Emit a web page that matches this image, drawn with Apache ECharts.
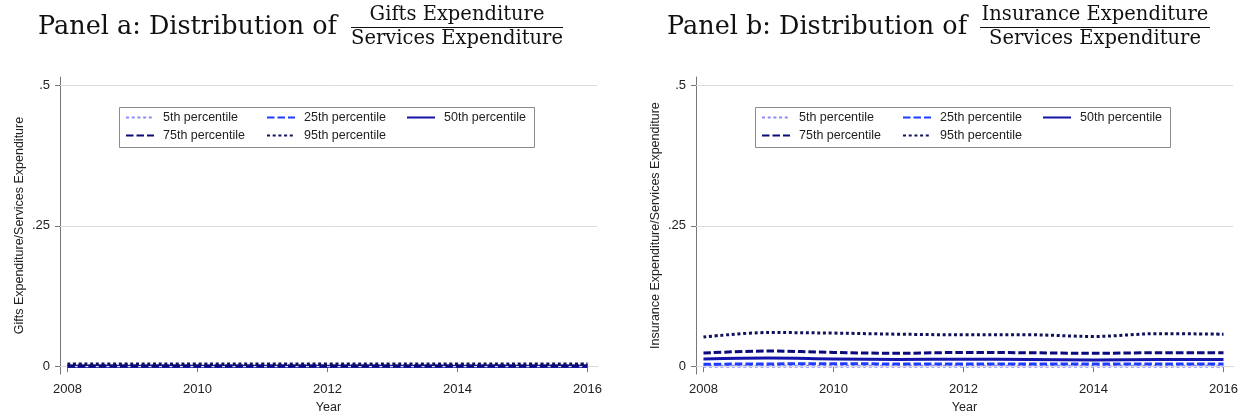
<!DOCTYPE html>
<html>
<head>
<meta charset="utf-8">
<script src="https://cdn.jsdelivr.net/npm/echarts@6/dist/echarts.min.js"></script>
<style>
  html, body { margin: 0; padding: 0; background: #fff; }
  #chart { width: 1245px; height: 419px; }
</style>
</head>
<body>
<div id="chart"></div>
<script>
// ---- data ----
const years = [2008, 2009, 2010, 2011, 2012, 2013, 2014, 2015, 2016];
const xTickValues = [2008, 2010, 2012, 2014, 2016];
const yTickValues = [0, 0.25, 0.5];
const yTickLabels = ['0', '.25', '.5'];
const percentileNames = ['5th percentile', '25th percentile', '50th percentile', '75th percentile', '95th percentile'];

// Panel a: gifts expenditure / services expenditure
const giftsP5  = [0, 0, 0, 0, 0, 0, 0, 0, 0];
const giftsP25 = [0, 0, 0, 0, 0, 0, 0, 0, 0];
const giftsP50 = [0, 0, 0, 0, 0, 0, 0, 0, 0];
const giftsP75 = [0.0005, 0.0005, 0.0005, 0.0005, 0.0005, 0.0005, 0.0005, 0.0005, 0.0005];
const giftsP95 = [0.004, 0.004, 0.004, 0.004, 0.004, 0.004, 0.004, 0.004, 0.004];

// Panel b: insurance expenditure / services expenditure
const insuranceP5  = [0, 0, 0, 0, 0, 0, 0, 0, 0];
const insuranceP25 = [0.0035, 0.004, 0.0045, 0.004, 0.004, 0.004, 0.004, 0.004, 0.004];
const insuranceP50 = [0.013, 0.0145, 0.013, 0.012, 0.0125, 0.012, 0.011, 0.012, 0.012];
const insuranceP75 = [0.0235, 0.027, 0.0245, 0.023, 0.0245, 0.024, 0.023, 0.024, 0.024];
const insuranceP95 = [0.052, 0.060, 0.059, 0.057, 0.056, 0.056, 0.053, 0.058, 0.057];

// ---- styling ----
const SANS = '"Liberation Sans", Arial, sans-serif';
const SERIF = '"DejaVu Serif", serif';
const lineLooks = [
  { color: '#8c8cff', type: [3, 2.7] },   // 5th
  { color: '#1e3cff', type: [7.5, 3] },   // 25th
  { color: '#1414a8', type: 'solid' },    // 50th
  { color: '#0a0a7c', type: [7.5, 3] },   // 75th
  { color: '#10105c', type: [3, 2.7] }    // 95th
];

const panels = [
  { dx: 0,   yName: 'Gifts Expenditure/Services Expenditure',
    heading: 'Panel a: Distribution of', headingX: 38,
    values: [giftsP5, giftsP25, giftsP50, giftsP75, giftsP95],
    numerator: 'Gifts Expenditure', fracCenter: 457, fracHalf: 106 },
  { dx: 636, yName: 'Insurance Expenditure/Services Expenditure',
    heading: 'Panel b: Distribution of', headingX: 667,
    values: [insuranceP5, insuranceP25, insuranceP50, insuranceP75, insuranceP95],
    numerator: 'Insurance Expenditure', fracCenter: 1095, fracHalf: 115 }
];

const grids = [], xAxes = [], yAxes = [], series = [], legends = [], graphics = [];

panels.forEach((p, i) => {
  grids.push({ left: 60 + p.dx, top: 77, width: 537, height: 300, containLabel: false });

  xAxes.push({
    gridIndex: i, type: 'value', min: 2007.885, max: 2016.146,
    name: 'Year', nameLocation: 'middle', nameGap: 25,
    nameTextStyle: { fontFamily: SANS, fontSize: 12.5, color: '#222' },
    axisLine: { lineStyle: { color: '#777', width: 1 } },
    axisTick: { show: true, length: 6, lineStyle: { color: '#777' }, customValues: xTickValues },
    axisLabel: { fontFamily: SANS, fontSize: 13, color: '#222', margin: 9, customValues: xTickValues,
                 formatter: v => String(v) },
    splitLine: { show: false }
  });

  yAxes.push({
    gridIndex: i, type: 'value', min: -0.0141, max: 0.5154,
    name: p.yName, nameLocation: 'middle', nameGap: 34, nameRotate: 90,
    nameTextStyle: { fontFamily: SANS, fontSize: 12.5, color: '#222' },
    axisLine: { show: true, lineStyle: { color: '#777', width: 1 } },
    axisTick: { show: true, length: 5, lineStyle: { color: '#777' }, customValues: yTickValues },
    axisLabel: { fontFamily: SANS, fontSize: 13, color: '#222', margin: 10, customValues: yTickValues,
                 formatter: v => yTickLabels[yTickValues.indexOf(Math.round(v * 100) / 100)] },
    splitLine: { show: false }
  });

  // horizontal reference lines at the labelled y values
  series.push({
    type: 'line', xAxisIndex: i, yAxisIndex: i, data: [], silent: true, z: 1,
    markLine: {
      silent: true, symbol: ['none', 'none'], animation: false,
      label: { show: false },
      lineStyle: { color: '#dcdcdc', width: 1, type: 'solid' },
      emphasis: { disabled: true },
      data: yTickValues.map(v => ({ yAxis: v }))
    }
  });

  p.values.forEach((vals, k) => {
    series.push({
      name: percentileNames[k], type: 'line', xAxisIndex: i, yAxisIndex: i,
      data: years.map((y, j) => [y, vals[j]]),
      symbol: 'none', smooth: 0.35, clip: false, z: 2 + k,
      lineStyle: { color: lineLooks[k].color, width: 3, type: lineLooks[k].type, cap: 'butt' },
      itemStyle: { color: lineLooks[k].color },
      animation: false
    });
  });

  // legend: 3 columns x 2 rows
  const colX = [125, 266, 406], rowY = [111, 129];
  percentileNames.forEach((nm, k) => {
    legends.push({
      data: [nm], left: colX[k % 3] + p.dx, top: rowY[Math.floor(k / 3)],
      padding: 0, itemWidth: 28, itemHeight: 14, selectedMode: false,
      itemStyle: { opacity: 0 },
      textStyle: { fontFamily: SANS, fontSize: 12.5, color: '#222', padding: [0, 0, 0, 4] }
    });
  });

  graphics.push({
    type: 'rect', silent: true, z: 0,
    shape: { x: 119.5 + p.dx, y: 107.5, width: 415, height: 40 },
    style: { fill: '#fff', stroke: '#8a8a8a', lineWidth: 1 }
  });

  // panel heading with a stacked fraction
  graphics.push({
    type: 'text', silent: true,
    style: { text: p.heading, x: p.headingX, y: 27, align: 'left', verticalAlign: 'middle',
             font: '25.5px ' + SERIF, fill: '#111' }
  });
  graphics.push({
    type: 'text', silent: true,
    style: { text: p.numerator, x: p.fracCenter, y: 15, align: 'center', verticalAlign: 'middle',
             font: '19.5px ' + SERIF, fill: '#111' }
  });
  graphics.push({
    type: 'line', silent: true,
    shape: { x1: p.fracCenter - p.fracHalf, y1: 27.5, x2: p.fracCenter + p.fracHalf, y2: 27.5 },
    style: { stroke: '#111', lineWidth: 1 }
  });
  graphics.push({
    type: 'text', silent: true,
    style: { text: 'Services Expenditure', x: p.fracCenter, y: 39, align: 'center', verticalAlign: 'middle',
             font: '19.5px ' + SERIF, fill: '#111' }
  });
});

const chart = echarts.init(document.getElementById('chart'), null, { renderer: 'canvas' });
chart.setOption({
  backgroundColor: '#fff',
  animation: false,
  grid: grids,
  xAxis: xAxes,
  yAxis: yAxes,
  legend: legends,
  graphic: graphics,
  series: series
});
</script>
</body>
</html>
